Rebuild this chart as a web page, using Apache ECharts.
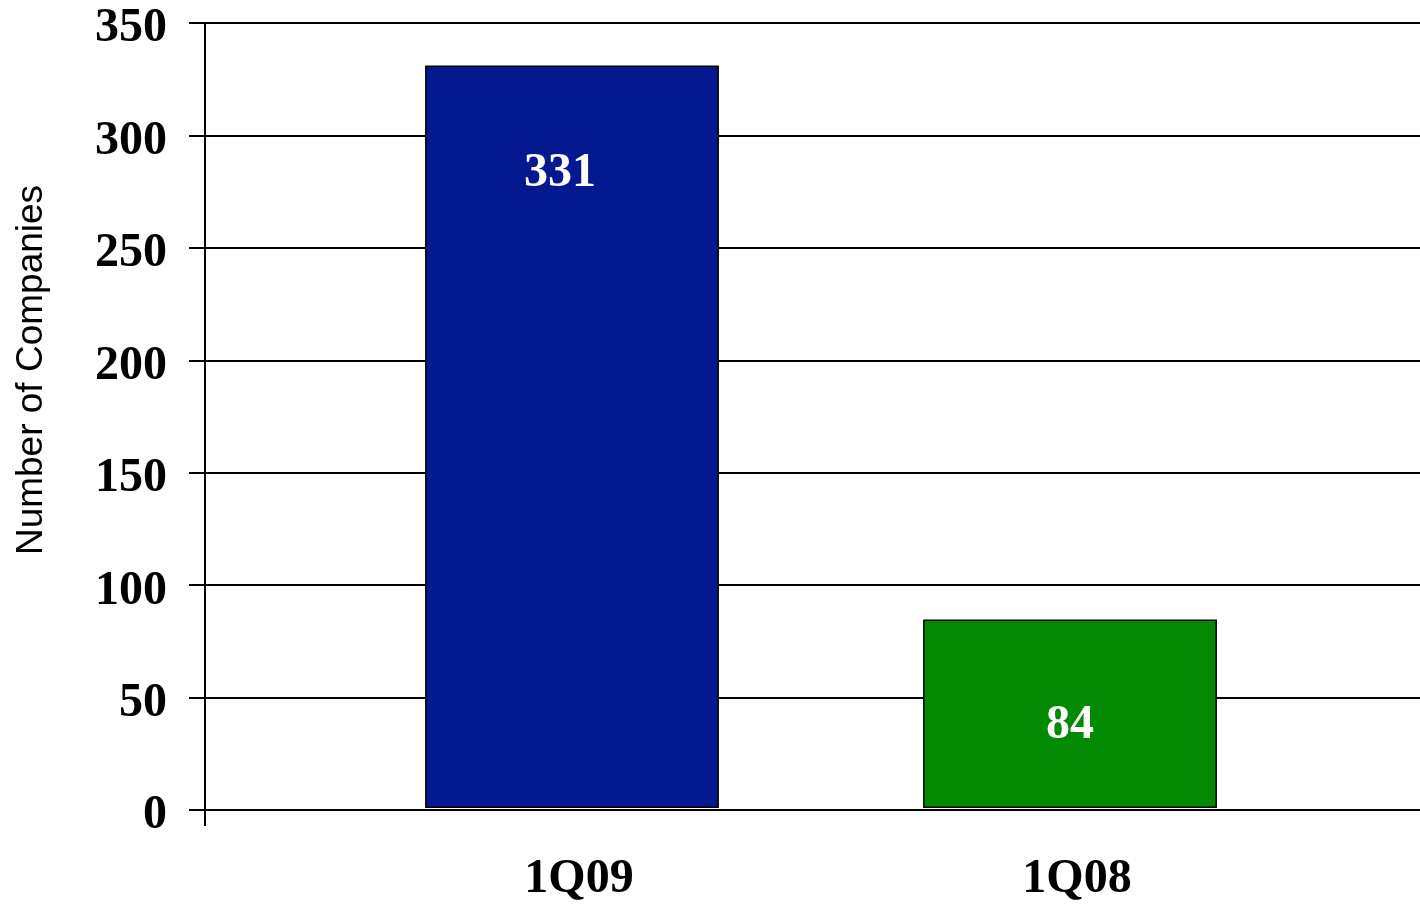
<!DOCTYPE html>
<html>
<head>
<meta charset="utf-8">
<title>Number of Companies</title>
<script src="https://cdn.jsdelivr.net/npm/echarts@6/dist/echarts.min.js"></script>
<style>
  html, body { margin: 0; padding: 0; background: #ffffff; }
  #chart { width: 1420px; height: 904px; }
</style>
</head>
<body>
<div id="chart"></div>
<script>
// Quarters compared and the company counts for each
const quarters = ['1Q09', '1Q08'];
const companyCounts = [331, 84];
const barColors = ['#04188f', '#038a03'];
const yTicks = [0, 50, 100, 150, 200, 250, 300, 350];

const serif = '"Liberation Serif", "Times New Roman", serif';
const sans = '"Liberation Sans", Arial, sans-serif';

const yMin = yTicks[0];
const yMax = yTicks[yTicks.length - 1];
const yStep = yTicks[1] - yTicks[0];

// per-bar nudges of the value labels
const labelOffsets = [[-12, 6], [0, 4]];

const chart = echarts.init(document.getElementById('chart'), null, { renderer: 'canvas' });

chart.setOption({
  animation: false,
  backgroundColor: '#ffffff',
  grid: [
    // frame: value axis, gridlines, baseline
    { left: 205, right: 0, top: 23, bottom: 94 },
    // bar area
    { left: 323, width: 996, top: 23, bottom: 94 }
  ],
  graphic: [{
    type: 'text',
    x: 32,
    y: 370,
    rotation: Math.PI / 2,
    style: {
      text: 'Number of Companies',
      font: '37px ' + sans,
      fill: '#000000',
      align: 'center',
      verticalAlign: 'middle'
    }
  }],
  xAxis: [
    {
      gridIndex: 0,
      type: 'value',
      min: 0,
      max: 1,
      interval: 1,
      axisLine: { show: true, onZero: false, lineStyle: { color: '#000000', width: 2 } },
      axisTick: { show: true, length: 16, customValues: [0], lineStyle: { color: '#000000', width: 2 } },
      axisLabel: { show: false },
      splitLine: { show: false }
    },
    {
      gridIndex: 1,
      type: 'category',
      data: quarters,
      axisLine: { show: false },
      axisTick: { show: false },
      axisLabel: {
        margin: 48,
        padding: [0, 0, 0, 14],
        color: '#000000',
        fontFamily: serif,
        fontWeight: 'bold',
        fontSize: 48
      }
    }
  ],
  yAxis: [
    {
      gridIndex: 0,
      type: 'value',
      min: yMin,
      max: yMax,
      interval: yStep,
      axisLine: { show: true, lineStyle: { color: '#000000', width: 2 } },
      axisTick: { show: true, length: 16, lineStyle: { color: '#000000', width: 2 } },
      axisLabel: {
        margin: 38,
        verticalAlign: 'top',
        lineHeight: 12,
        color: '#000000',
        fontFamily: serif,
        fontWeight: 'bold',
        fontSize: 48
      },
      splitLine: { show: true, lineStyle: { color: '#000000', width: 2 } }
    },
    {
      gridIndex: 1,
      type: 'value',
      min: yMin,
      max: yMax,
      interval: yStep,
      show: false,
      splitLine: { show: false }
    }
  ],
  series: [{
    type: 'bar',
    xAxisIndex: 1,
    yAxisIndex: 1,
    barCategoryGap: '41%',
    z: 5,
    data: companyCounts.map((v, i) => ({
      value: v,
      itemStyle: { color: barColors[i] },
      label: { offset: labelOffsets[i] }
    })),
    itemStyle: { borderColor: '#000000', borderWidth: 1.5 },
    label: {
      show: true,
      position: 'insideTop',
      distance: 78,
      color: '#ffffff',
      fontFamily: serif,
      fontWeight: 'bold',
      fontSize: 48
    }
  }]
});
</script>
</body>
</html>
